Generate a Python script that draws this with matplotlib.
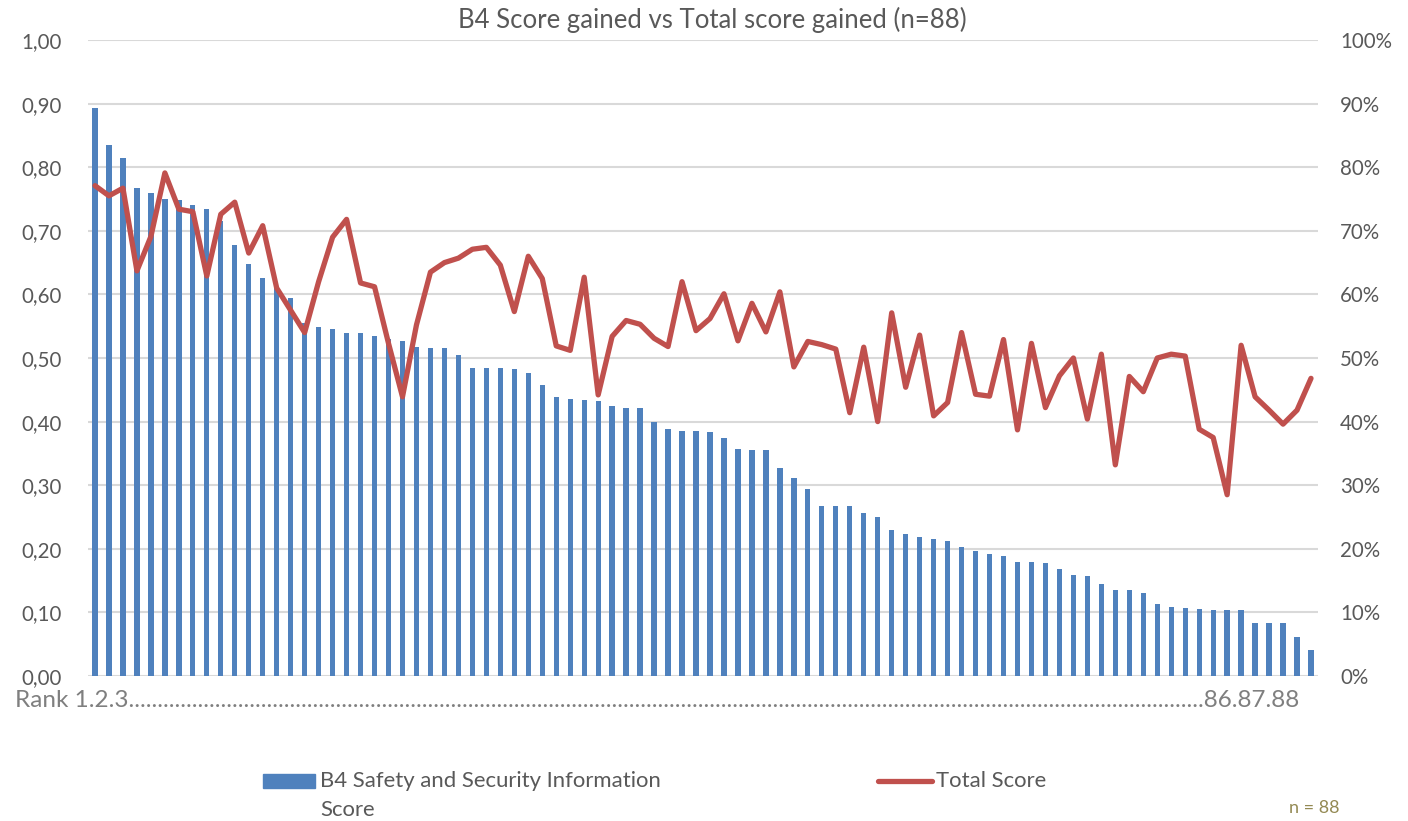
import matplotlib
matplotlib.use("Agg")
import matplotlib.pyplot as plt
from matplotlib.patches import Rectangle
from matplotlib.lines import Line2D
import numpy as np

ranks = list(range(1, 89))
b4_scores = [
    0.893, 0.835, 0.814, 0.767, 0.760, 0.750, 0.748, 0.741, 0.734, 0.715,
    0.678, 0.648, 0.626, 0.610, 0.595, 0.555, 0.548, 0.545, 0.539, 0.539,
    0.535, 0.530, 0.527, 0.517, 0.516, 0.516, 0.505, 0.485, 0.485, 0.484,
    0.482, 0.477, 0.457, 0.439, 0.436, 0.434, 0.432, 0.425, 0.422, 0.421,
    0.399, 0.388, 0.386, 0.386, 0.383, 0.375, 0.357, 0.356, 0.356, 0.327,
    0.311, 0.294, 0.268, 0.268, 0.268, 0.256, 0.250, 0.230, 0.224, 0.218,
    0.216, 0.213, 0.203, 0.196, 0.192, 0.189, 0.180, 0.180, 0.177, 0.168,
    0.159, 0.158, 0.144, 0.135, 0.135, 0.130, 0.113, 0.109, 0.107, 0.105,
    0.103, 0.103, 0.103, 0.084, 0.083, 0.083, 0.062, 0.041,
]
total_scores = [
    0.771, 0.755, 0.767, 0.637, 0.691, 0.791, 0.734, 0.730, 0.629, 0.726,
    0.745, 0.665, 0.708, 0.610, 0.575, 0.540, 0.620, 0.690, 0.718, 0.618,
    0.612, 0.523, 0.439, 0.552, 0.635, 0.650, 0.657, 0.671, 0.674, 0.646,
    0.573, 0.660, 0.625, 0.519, 0.512, 0.627, 0.442, 0.534, 0.559, 0.553,
    0.531, 0.518, 0.620, 0.543, 0.562, 0.601, 0.527, 0.586, 0.541, 0.604,
    0.486, 0.526, 0.521, 0.514, 0.414, 0.517, 0.400, 0.571, 0.454, 0.536,
    0.409, 0.430, 0.540, 0.443, 0.440, 0.529, 0.387, 0.523, 0.422, 0.472,
    0.500, 0.404, 0.506, 0.332, 0.471, 0.447, 0.500, 0.506, 0.503, 0.388,
    0.375, 0.285, 0.520, 0.439, 0.418, 0.396, 0.418, 0.468,
]
left_ticks = [0.0, 0.1, 0.2, 0.3, 0.4, 0.5, 0.6, 0.7, 0.8, 0.9, 1.0]
left_labels = ["0,00", "0,10", "0,20", "0,30", "0,40", "0,50", "0,60", "0,70", "0,80", "0,90", "1,00"]
right_labels = ["0%", "10%", "20%", "30%", "40%", "50%", "60%", "70%", "80%", "90%", "100%"]

title = "B4 Score gained vs Total score gained (n=88)"
bar_label_1 = "B4 Safety and Security Information"
bar_label_2 = "Score"
line_label = "Total Score"

BLUE = "#4F81BD"
RED = "#C0504D"
GRAY = "#595959"
GRID = "#D9D9D9"

plt.rcParams['font.family'] = ['Lato', 'DejaVu Sans']

W, H = 1408, 821
fig = plt.figure(figsize=(W / 100, H / 100), dpi=100)
L, R, T, B = 88, 1318, 40, 676
ax = fig.add_axes([L / W, 1 - B / H, (R - L) / W, (B - T) / H])
ax2 = ax.twinx()

ax.bar(ranks, b4_scores, width=0.38, color=BLUE, zorder=2)
ax.set_xlim(0.5, 88.5)
ax.set_ylim(0, 1.0)
ax.set_yticks(left_ticks)
ax.set_yticklabels(left_labels)
ax.set_xticks([])
ax.grid(axis='y', color=GRID, lw=1.5, zorder=0)
ax.set_axisbelow(True)
for s in ax.spines.values():
    s.set_visible(False)
ax.tick_params(axis='y', length=0, pad=19, labelsize=14.8, labelcolor=GRAY)

ax2.plot(ranks, total_scores, color=RED, lw=3.8, solid_joinstyle='round',
         solid_capstyle='round', zorder=3)
ax2.set_ylim(0, 1.0)
ax2.set_yticks(left_ticks)
ax2.set_yticklabels(right_labels)
for s in ax2.spines.values():
    s.set_visible(False)
ax2.tick_params(axis='y', length=0, pad=16, labelsize=14.8, labelcolor=GRAY)
for lbl in ax2.get_yticklabels():
    lbl.set_horizontalalignment('left')

fig.text(712 / W, 1 - 20 / H, title, ha='center', va='center', fontsize=18.5, color=GRAY)

# Rank text with dots filling the width
renderer = fig.canvas.get_renderer()
start, end = "Rank 1.2.3", "86.87.88"
target = 1296 - 15
n = 10
rank_txt = fig.text(15 / W, 1 - 700 / H, start + "." * n + end, ha='left', va='center',
                    fontsize=17.5, color="#7F7F7F")
while True:
    rank_txt.set_text(start + "." * n + end)
    w = rank_txt.get_window_extent(renderer).width
    if w >= target:
        break
    n += 1

# Legend
fig.add_artist(Rectangle((263 / W, 1 - 788 / H), 52 / W, 14 / H, transform=fig.transFigure,
                         color=BLUE))
fig.text(320 / W, 1 - 781 / H, bar_label_1, ha='left', va='center',
         fontsize=15.9, color=GRAY)
fig.text(320 / W, 1 - 810 / H, bar_label_2, ha='left', va='center', fontsize=15.9, color=GRAY)
fig.add_artist(Line2D([878 / W, 932 / W], [1 - 781 / H, 1 - 781 / H], transform=fig.transFigure,
                      color=RED, lw=3.8, solid_capstyle='round'))
fig.text(936 / W, 1 - 781 / H, line_label, ha='left', va='center', fontsize=15.9, color=GRAY)
fig.text(1314 / W, 1 - 808 / H, "n = 88", ha='center', va='center', fontsize=13, color="#948A54")

fig.savefig("out.png", dpi=100)
